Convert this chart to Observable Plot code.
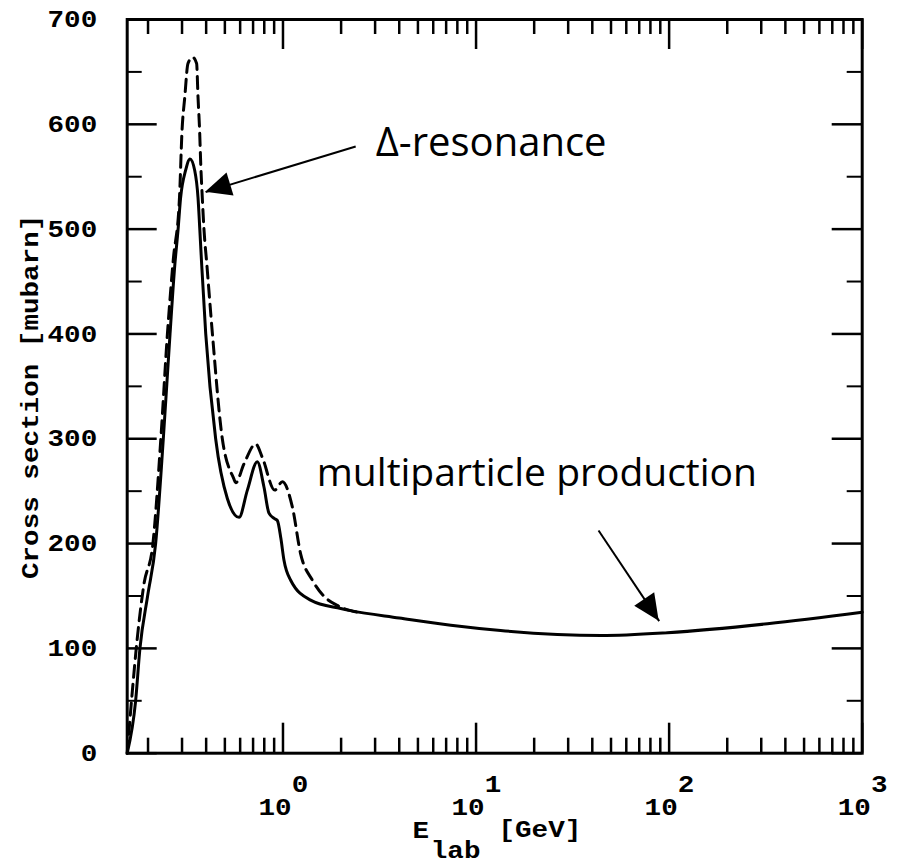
<!DOCTYPE html>
<html><head><meta charset="utf-8">
<script src="https://cdn.jsdelivr.net/npm/d3@7"></script>
<script src="https://cdn.jsdelivr.net/npm/@observablehq/plot@0.6"></script>
<style>body{margin:0;background:#fff} #chart svg{display:block}</style>
</head><body><div id="chart"></div>
<script>
// ---- data ----
const xDomain = [0.156, 1000];
const yDomain = [0, 700];

const energySolid = [0.156, 0.1725, 0.1816, 0.199, 0.219, 0.240, 0.260, 0.275, 0.286, 0.295, 0.313, 0.330, 0.349, 0.363, 0.371, 0.379, 0.398, 0.448, 0.515, 0.592, 0.654, 0.736, 0.797, 0.846, 0.90, 0.935, 0.975, 1.012, 1.096, 1.39, 1.99, 2.24, 4, 7.4, 13.4, 44.3, 98, 323, 1000];
const sigmaSolid  = [0, 50, 100, 150, 200, 300, 400, 465, 499, 530, 556, 567, 556, 530, 499, 467, 400, 300, 243, 225, 251, 278, 254, 229, 224, 222, 205, 184, 165, 146, 138, 136, 129, 122, 117, 112.3, 115, 123.5, 134.5];

const energyDashed = [0.156, 0.166, 0.176, 0.190, 0.212, 0.233, 0.252, 0.270, 0.291, 0.300, 0.310, 0.322, 0.340, 0.357, 0.363, 0.370, 0.375, 0.382, 0.390, 0.403, 0.431, 0.485, 0.556, 0.569, 0.628, 0.722, 0.782, 0.906, 0.993, 1.118, 1.235, 1.42, 1.625, 1.91, 2.24, 2.5];
const sigmaDashed  = [0, 60, 110, 160, 200, 300, 400, 470, 530, 594, 626, 658, 664, 658, 626, 594, 562, 530, 499, 467, 400, 300, 262, 258, 276, 295, 282, 251, 259, 235, 190, 165, 150, 141, 136, 134];

const xMajorTicks = [1, 10, 100, 1000];
const xExponents = ["0", "1", "2", "3"];
const xMinorTicks = [0.2,0.3,0.4,0.5,0.6,0.7,0.8,0.9, 2,3,4,5,6,7,8,9, 20,30,40,50,60,70,80,90, 200,300,400,500,600,700,800,900];
const yMajorTicks = [0, 100, 200, 300, 400, 500, 600, 700];
const yMinorTicks = [50, 150, 250, 350, 450, 550, 650];

const yTitle = "Cross section [mubarn]";
const yTitlePos = [340];
const xTitleParts = ["E", "lab", "[GeV]"];
const xTitlePos = [5.17, 7.84, 21.4];

const annotLabels = ["\u0394-resonance", "multiparticle production"];
const annotX = [3.02, 1.496];
const annotY = [569.4, 255.4];

const arrowFromX = [2.38, 43.1];
const arrowFromY = [578.9, 212.5];
const arrowToX = [0.3976, 88.8];
const arrowToY = [535.3, 126];

// ---- tables ----
const solid = energySolid.map((e, i) => ({e, s: sigmaSolid[i]}));
const dashed = energyDashed.map((e, i) => ({e, s: sigmaDashed[i]}));
const decades = xMajorTicks.map((v, i) => ({v, exp: xExponents[i]}));
const xTitle = xTitleParts.map((t, i) => ({t, x: xTitlePos[i]}));
const annots = annotLabels.map((t, i) => ({t, x: annotX[i], y: annotY[i]}));
const arrows = arrowFromX.map((x1, i) => ({x1, y1: arrowFromY[i], x2: arrowToX[i], y2: arrowToY[i]}));

// ---- layout ----
const W = 899, H = 865, mL = 126.7, mR = 37.3, mT = 19, mB = 112.3;
const plotH = H - mT - mB, plotW = W - mL - mR;
const MAJ = 30, MIN = 15;
const mono = "Liberation Mono";
const tickW = 2.5;

const chart = Plot.plot({
  width: W, height: H,
  marginLeft: mL, marginRight: mR, marginTop: mT, marginBottom: mB,
  x: {type: "log", domain: xDomain, axis: null},
  y: {domain: yDomain, axis: null},
  style: {background: "white", overflow: "visible"},
  marks: [
    Plot.tickX(xMajorTicks, {x: d => d, insetTop: plotH - MAJ, strokeWidth: tickW}),
    Plot.tickX(xMajorTicks, {x: d => d, insetBottom: plotH - MAJ, strokeWidth: tickW}),
    Plot.tickX(xMinorTicks, {x: d => d, insetTop: plotH - MIN, strokeWidth: tickW}),
    Plot.tickX(xMinorTicks, {x: d => d, insetBottom: plotH - MIN, strokeWidth: tickW}),
    Plot.tickY(yMajorTicks, {y: d => d, insetRight: plotW - MAJ, strokeWidth: tickW}),
    Plot.tickY(yMajorTicks, {y: d => d, insetLeft: plotW - MAJ, strokeWidth: tickW}),
    Plot.tickY(yMinorTicks, {y: d => d, insetRight: plotW - MIN, strokeWidth: 2}),
    Plot.tickY(yMinorTicks, {y: d => d, insetLeft: plotW - MIN, strokeWidth: 2}),
    Plot.line(dashed, {x: "e", y: "s", stroke: "black", strokeWidth: 3, strokeDasharray: "12,7", curve: "monotone-x"}),
    Plot.line(solid, {x: "e", y: "s", stroke: "black", strokeWidth: 3, curve: "monotone-x"}),
    Plot.frame({stroke: "black", strokeWidth: 3}),
    // x tick labels
    Plot.text(decades, {x: "v", text: () => "10", frameAnchor: "bottom", dx: -8, dy: 62, lineAnchor: "bottom", textAnchor: "middle", fontFamily: mono, fontWeight: "bold", fontSize: 24, fill: "black"}),
    Plot.text(decades, {x: "v", text: "exp", frameAnchor: "bottom", dx: 17, dy: 39, lineAnchor: "bottom", textAnchor: "middle", fontFamily: mono, fontWeight: "bold", fontSize: 24, fill: "black"}),
    // y tick labels
    Plot.text(yMajorTicks, {y: d => d, text: d => String(d), frameAnchor: "left", dx: -30, textAnchor: "end", lineAnchor: "middle", fontFamily: mono, fontWeight: "bold", fontSize: 24, fill: "black"}),
    // y title
    Plot.text(yTitlePos, {y: d => d, text: () => yTitle, frameAnchor: "left", dx: -97, rotate: -90, textAnchor: "middle", lineAnchor: "middle", fontFamily: mono, fontWeight: "bold", fontSize: 24, fill: "black"}),
    // x title
    Plot.text(xTitle.slice(0, 1), {x: "x", text: "t", frameAnchor: "bottom", dy: 85, lineAnchor: "bottom", textAnchor: "middle", fontFamily: mono, fontWeight: "bold", fontSize: 24, fill: "black"}),
    Plot.text(xTitle.slice(1, 2), {x: "x", text: "t", frameAnchor: "bottom", dy: 105, lineAnchor: "bottom", textAnchor: "middle", fontFamily: mono, fontWeight: "bold", fontSize: 24, fill: "black"}),
    Plot.text(xTitle.slice(2, 3), {x: "x", text: "t", frameAnchor: "bottom", dy: 84, lineAnchor: "bottom", textAnchor: "middle", fontFamily: mono, fontWeight: "bold", fontSize: 24, fill: "black"}),
    // annotations
    Plot.link(arrows, {x1: "x1", y1: "y1", x2: "x2", y2: "y2", stroke: "black", strokeWidth: 2}),
    Plot.text(annots.slice(0, 1), {x: "x", y: "y", text: "t", textAnchor: "start", lineAnchor: "bottom", fontFamily: "Open Sans", fontSize: 40, fill: "black"}),
    Plot.text(annots.slice(1, 2), {x: "x", y: "y", text: "t", textAnchor: "start", lineAnchor: "bottom", fontFamily: "Open Sans", fontSize: 39, fill: "black"})
  ]
});

document.getElementById("chart").appendChild(chart);

// stretch the typewriter-style labels horizontally
const svg = d3.select(chart);
svg.selectAll("text").each(function () {
  const ff = getComputedStyle(this).fontFamily || "";
  if (ff.includes("Liberation Mono")) {
    const t = this.getAttribute("transform") || "";
    this.setAttribute("transform", t + " scale(1.15,1)");
  }
});

// filled arrowheads, placed through the chart's own scales
const sx = chart.scale("x"), sy = chart.scale("y");
arrows.forEach(a => {
  const x1 = sx.apply(a.x1), y1 = sy.apply(a.y1), x2 = sx.apply(a.x2), y2 = sy.apply(a.y2);
  const ang = Math.atan2(y2 - y1, x2 - x1);
  const L = 26, hw = 12;
  const bx = x2 - L * Math.cos(ang), by = y2 - L * Math.sin(ang);
  const px = -Math.sin(ang) * hw, py = Math.cos(ang) * hw;
  svg.append("polygon")
    .attr("points", `${x2},${y2} ${bx + px},${by + py} ${bx - px},${by - py}`)
    .attr("fill", "black");
});
</script></body></html>
